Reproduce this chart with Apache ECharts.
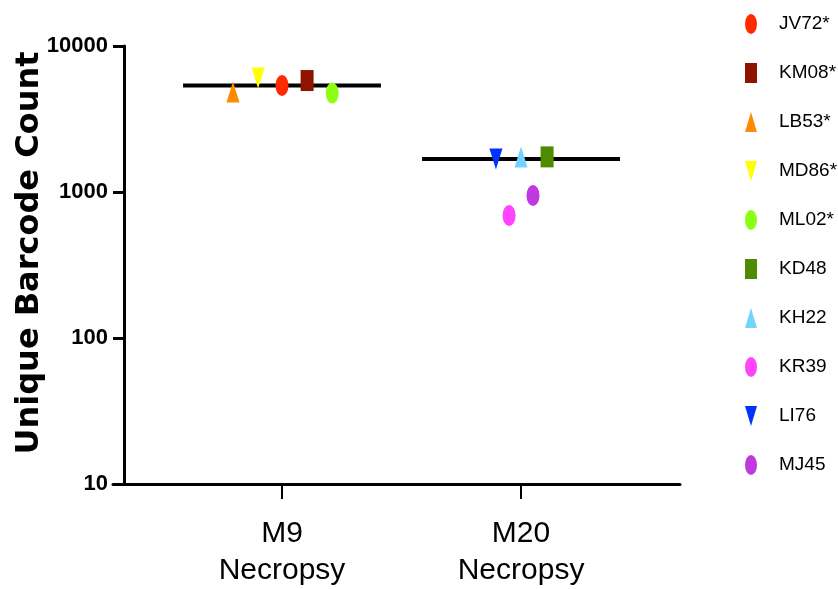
<!DOCTYPE html>
<html>
<head>
<meta charset="utf-8">
<script src="https://cdn.jsdelivr.net/npm/echarts@6/dist/echarts.min.js"></script>
<style>
  html, body { margin: 0; padding: 0; background: #ffffff; }
  #chart { width: 838px; height: 589px; }
</style>
</head>
<body>
<div id="chart"></div>
<script>
// Time points on the x axis (positions 1 and 2)
const groups = ['M9\nNecropsy', 'M20\nNecropsy'];

// One entry per animal
const animals = ['JV72*', 'KM08*', 'LB53*', 'MD86*', 'ML02*', 'KD48', 'KH22', 'KR39', 'LI76', 'MJ45'];
const animalGroup = [0, 0, 0, 0, 0, 1, 1, 1, 1, 1];
const barcodeCounts = [5360, 5800, 4840, 6040, 4760, 1740, 1740, 690, 1680, 946];
// Horizontal spread of the points around their time point
const jitter = [0, 0.105, -0.205, -0.1, 0.21, 0.109, 0, -0.05, -0.105, 0.05];

const yTicks = [10, 100, 1000, 10000];

const ELLIPSE = 'path://M0,10A10,10,0,1,1,20,10A10,10,0,1,1,0,10Z';
const TRI_DOWN = 'path://M0,0L10,0L5,10Z';
const markerShapes = [ELLIPSE, 'rect', 'triangle', TRI_DOWN, ELLIPSE, 'rect', 'triangle', ELLIPSE, TRI_DOWN, ELLIPSE];
const markerColors = ['#ff2a00', '#8e1400', '#ff8c00', '#ffff00', '#8cff14', '#4f8b00', '#73d2ff', '#ff44ff', '#0033ff', '#bf38e0'];

const MEDIAN_HALF_WIDTH = 0.414;

function median(values) {
  const s = values.slice().sort((a, b) => a - b);
  const m = Math.floor(s.length / 2);
  return s.length % 2 ? s[m] : (s[m - 1] + s[m]) / 2;
}

const series = [];

// Median bar for each time point
groups.forEach((g, gi) => {
  const vals = barcodeCounts.filter((v, i) => animalGroup[i] === gi);
  const med = median(vals);
  const xc = gi + 1;
  series.push({
    type: 'line',
    name: 'median-' + gi,
    data: [[xc - MEDIAN_HALF_WIDTH, med], [xc + MEDIAN_HALF_WIDTH, med]],
    symbol: 'none',
    silent: true,
    z: 1,
    lineStyle: { color: '#000000', width: 4 }
  });
});

// One scatter series per animal
animals.forEach((a, i) => {
  series.push({
    type: 'scatter',
    name: a,
    data: [[animalGroup[i] + 1 + jitter[i], barcodeCounts[i]]],
    symbol: markerShapes[i],
    symbolSize: [13, 21],
    z: 3,
    itemStyle: { color: markerColors[i], opacity: 1 }
  });
});

const chart = echarts.init(document.getElementById('chart'));
chart.setOption({
  animation: false,
  backgroundColor: '#ffffff',
  grid: { left: 113, right: 158, top: 46, bottom: 105, containLabel: false, outerBoundsMode: 'none' },
  legend: {
    orient: 'vertical',
    left: 745,
    top: 14,
    padding: 0,
    itemWidth: 12,
    itemHeight: 20,
    itemGap: 29,
    symbolKeepAspect: false,
    selectedMode: false,
    data: animals.map((a, i) => ({ name: a, icon: markerShapes[i] })),
    textStyle: {
      fontFamily: "'Liberation Sans', Arial, sans-serif",
      fontSize: 19,
      lineHeight: 20,
      color: '#000000',
      padding: [0, 0, 0, 17]
    }
  },
  xAxis: {
    type: 'value',
    min: 0.293,
    max: 2.665,
    splitLine: { show: false },
    axisLine: { lineStyle: { color: '#000000', width: 3 } },
    axisTick: { customValues: [1, 2], length: 15, lineStyle: { color: '#000000', width: 2 } },
    axisLabel: {
      customValues: [1, 2],
      formatter: v => groups[Math.round(v) - 1] || '',
      margin: 31,
      fontFamily: "'Liberation Sans', Arial, sans-serif",
      fontSize: 30,
      lineHeight: 37,
      color: '#000000'
    }
  },
  yAxis: {
    type: 'log',
    logBase: 10,
    min: yTicks[0],
    max: yTicks[yTicks.length - 1],
    offset: -11,
    name: 'Unique Barcode Count',
    nameLocation: 'middle',
    nameGap: 78,
    nameMoveOverlap: false,
    nameTextStyle: {
      fontFamily: "'DejaVu Sans', sans-serif",
      fontWeight: 'bold',
      fontSize: 32,
      color: '#000000',
      padding: [0, 0, 0, 24]
    },
    splitLine: { show: false },
    minorTick: { show: false },
    axisLine: { lineStyle: { color: '#000000', width: 3 } },
    axisTick: { length: 11, lineStyle: { color: '#000000', width: 3 } },
    axisLabel: {
      formatter: v => String(v),
      margin: 16,
      fontFamily: "'Liberation Sans', Arial, sans-serif",
      fontWeight: 'bold',
      fontSize: 22,
      color: '#000000'
    }
  },
  series: series
});
</script>
</body>
</html>
